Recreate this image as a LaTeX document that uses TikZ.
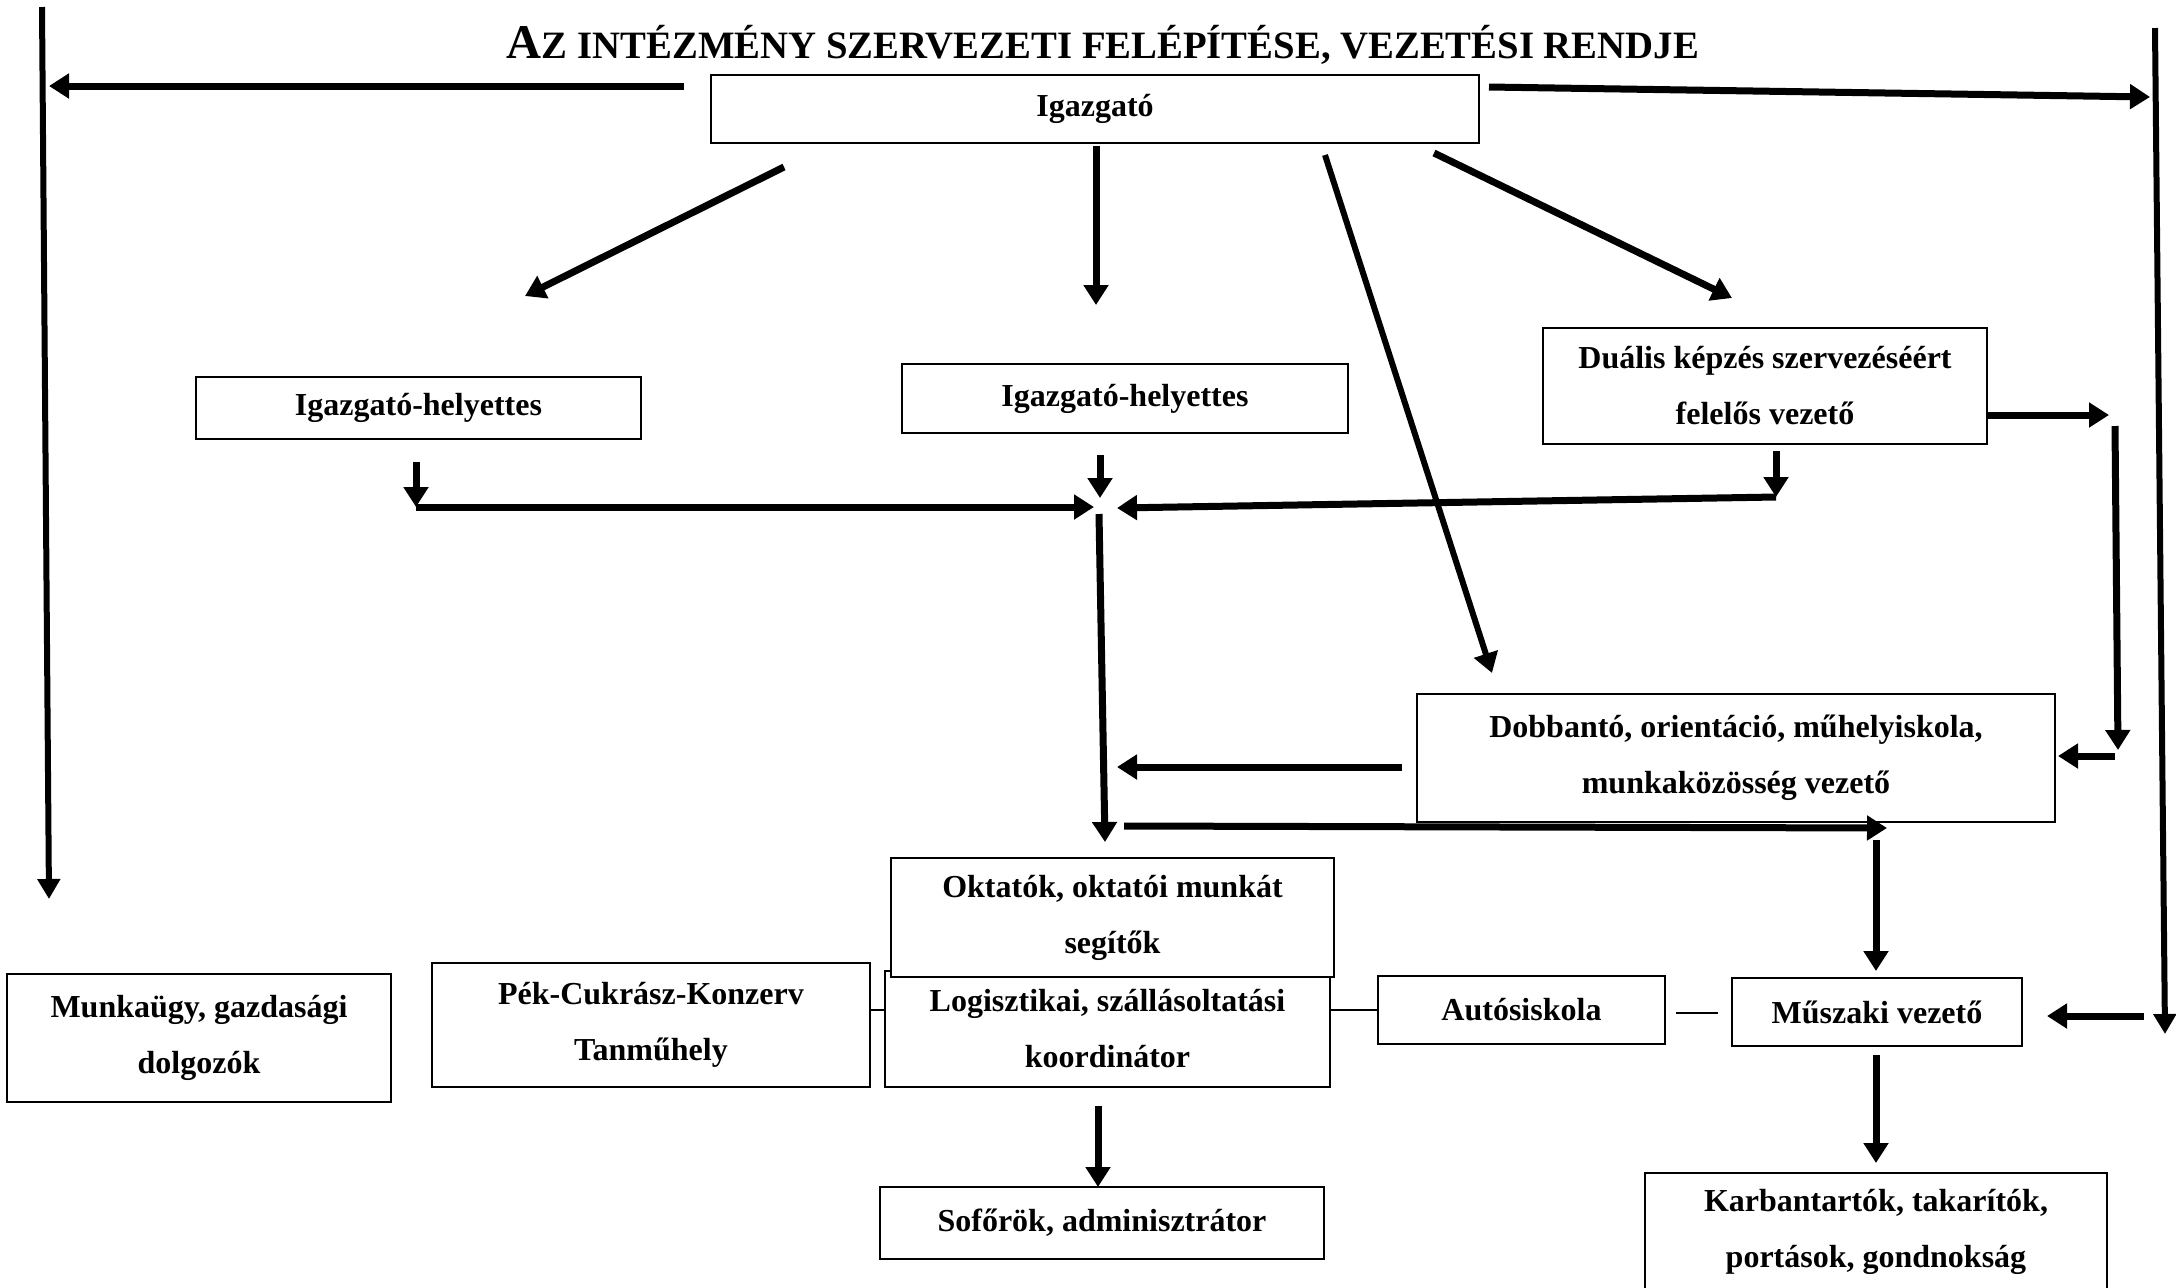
\documentclass[tikz,border=0pt]{standalone}
\usepackage{fontspec}
\setmainfont{Liberation Serif}
\usetikzlibrary{arrows.meta,calc}
\begin{document}
\begin{tikzpicture}[x=0.5pt,y=-0.5pt,
  box/.style={draw,line width=1pt,fill=white,align=center,inner sep=0pt,
    font=\bfseries\fontsize{16}{28}\selectfont},
  arr/.style={line width=3.5pt,-{Triangle[length=10pt,width=12pt]}},
  side/.style={line width=3pt,-{Triangle[length=10pt,width=11pt]}},
  link/.style={line width=0.6pt},
]
\useasboundingbox (0,0) rectangle (2176,1287);
\clip (0,0) rectangle (2176,1287);
\fill[white] (0,0) rectangle (2176,1287);

% title
\node[anchor=base,inner sep=0pt] (title) at (1103,58) {\resizebox{596pt}{!}{\bfseries\fontsize{22}{22}\selectfont A\fontsize{17.6}{22}\selectfont Z INTÉZMÉNY SZERVEZETI FELÉPÍTÉSE, VEZETÉSI RENDJE}};

% boxes
\node[box,minimum width=384pt,minimum height=34pt] (igaz) at (1095,109) {Igazgató};
\node[box,minimum width=222.5pt,minimum height=31pt] (ih1) at (418.5,408) {Igazgató-helyettes};
\node[box,minimum width=223pt,minimum height=34.5pt] (ih2) at (1125,398.5) {Igazgató-helyettes};
\node[box,minimum width=222pt,minimum height=58pt] (dual) at (1765,386) {Duális képzés szervezéséért\\felelős vezető};
\node[box,minimum width=319pt,minimum height=64pt] (dobb) at (1736,758) {Dobbantó, orientáció, műhelyiskola,\\munkaközösség vezető};
\node[box,minimum width=222.5pt,minimum height=58pt] (logi) at (1107.5,1029) {Logisztikai, szállásoltatási\\koordinátor};
\node[box,minimum width=221.5pt,minimum height=59.5pt] (okt) at (1112.5,917.5) {Oktatók, oktatói munkát\\segítők};
\node[box,minimum width=219pt,minimum height=62pt] (pek) at (651,1025) {Pék-Cukrász-Konzerv\\Tanműhely};
\node[box,minimum width=192pt,minimum height=64pt] (munka) at (199,1038) {Munkaügy, gazdasági\\dolgozók};
\node[box,minimum width=143.5pt,minimum height=34pt] (auto) at (1521.5,1010) {Autósiskola};
\node[box,minimum width=145pt,minimum height=34pt] (musz) at (1877,1012) {Műszaki vezető};
\node[box,minimum width=222pt,minimum height=36pt] (sofor) at (1102,1223) {Sofőrök, adminisztrátor};
\node[box,minimum width=231pt,minimum height=59pt] (karb) at (1876,1232) {Karbantartók, takarítók,\\portások, gondnokság};

% coordinates
\coordinate (iL) at (684,86);   \coordinate (iLe) at (49,86);
\coordinate (lTop) at (42,7);   \coordinate (lBot) at (49,899);
\coordinate (iR) at (1489,87);  \coordinate (iRe) at (2150,97);
\coordinate (rTop) at (2155,28); \coordinate (rBot) at (2165,1034);
\coordinate (d1s) at (784,167); \coordinate (d1e) at (525,296);
\coordinate (d2s) at (1096,146); \coordinate (d2e) at (1096,305);
\coordinate (d3s) at (1325,155); \coordinate (d3e) at (1492,673);
\coordinate (d4s) at (1434,153); \coordinate (d4e) at (1732,298);
\coordinate (h1s) at (416,462); \coordinate (h1j) at (416,507);
\coordinate (junc) at (1094,507);
\coordinate (h2s) at (1100,455); \coordinate (h2e) at (1100,498);
\coordinate (dus) at (1776,451); \coordinate (duj) at (1776,497);
\coordinate (jR) at (1117,508);
\coordinate (cvs) at (1099,514); \coordinate (cve) at (1105,842);
\coordinate (drs) at (1987,415); \coordinate (dre) at (2109,415);
\coordinate (dvs) at (2115,426); \coordinate (dve) at (2118,750);
\coordinate (dls) at (2115,756); \coordinate (dle) at (2058,756);
\coordinate (dbs) at (1402,767); \coordinate (dbe) at (1117,767);
\coordinate (hs) at (1124,826); \coordinate (he) at (1887,828);
\coordinate (mvs) at (1876,840); \coordinate (mve) at (1876,971);
\coordinate (mrs) at (2144,1016); \coordinate (mre) at (2047,1016);
\coordinate (mds) at (1876,1055); \coordinate (mde) at (1876,1163);
\coordinate (lds) at (1098,1106); \coordinate (lde) at (1098,1187);
\coordinate (ams) at (1676,1013); \coordinate (ame) at (1718,1013);

% connectors
\draw[arr] (iL) -- (iLe);
\draw[side] (lTop) -- (lBot);
\draw[arr] (iR) -- (iRe);
\draw[side] (rTop) -- (rBot);
\draw[arr] (d1s) -- (d1e);
\draw[arr] (d2s) -- (d2e);
\draw[line width=3pt,-{Triangle[length=10pt,width=12pt]}] (d3s) -- (d3e);
\draw[arr] (d4s) -- (d4e);
\draw[arr] (h1s) -- (h1j);
\draw[arr] (h1j) -- (junc);
\draw[arr] (h2s) -- (h2e);
\draw[arr] (dus) -- (duj);
\draw[arr] (duj) -- (jR);
\draw[arr] (cvs) -- (cve);
\draw[arr] (drs) -- (dre);
\draw[arr] (dvs) -- (dve);
\draw[arr] (dls) -- (dle);
\draw[arr] (dbs) -- (dbe);
\draw[arr] (hs) -- (he);
\draw[arr] (mvs) -- (mve);
\draw[arr] (mrs) -- (mre);
\draw[arr] (mds) -- (mde);
\draw[arr] (lds) -- (lde);

\draw[link] (pek.east |- 0,1010) -- (logi.west |- 0,1010);
\draw[link] (logi.east |- 0,1010) -- (auto.west |- 0,1010);
\draw[line width=1.2pt] (ams) -- (ame);
\end{tikzpicture}
\end{document}
